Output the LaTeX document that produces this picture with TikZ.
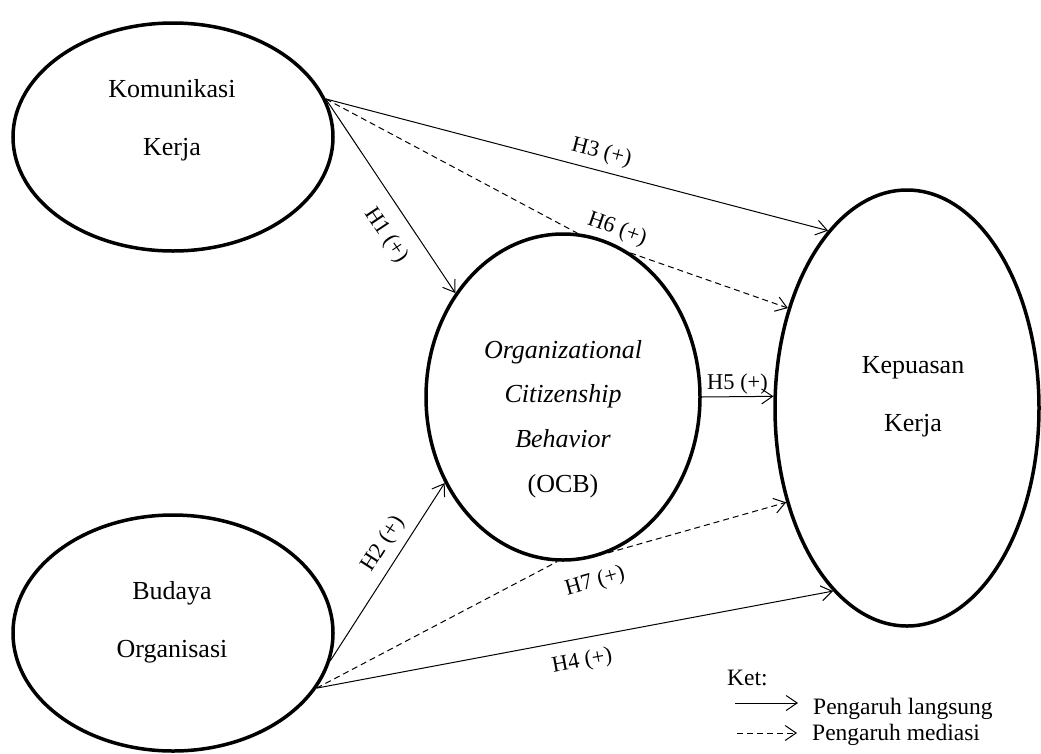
\documentclass[tikz,border=0pt]{standalone}
\usepackage{fontspec}
\setmainfont{Liberation Serif}
\usetikzlibrary{arrows.meta,shapes.geometric}

\begin{document}
\begin{tikzpicture}[
      x=1pt, y=-1pt,
      var/.style={ellipse, draw=black, line width=3.5pt, fill=white, inner sep=0pt},
      vtxt/.style={align=center, inner sep=0pt, font=\fontsize{26}{58}\selectfont},
      lbl/.style={font=\fontsize{22.5}{26}\selectfont, sloped, inner sep=2pt},
      legtxt/.style={inner sep=0pt, font=\fontsize{23.5}{28}\selectfont},
      direct/.style={-{Straight Barb[length=11pt,width=15pt]}, line width=1pt},
      mediate/.style={direct, dash pattern=on 6pt off 4pt}
    ]
      \useasboundingbox (0,0) rectangle (1041,753);

      % variables
      \node[var, minimum width=320pt, minimum height=228pt] (kom) at (173,137) {};
      \node[var, minimum width=320pt, minimum height=236pt] (bud) at (173,633) {};
      \node[var, minimum width=274pt, minimum height=326pt] (ocb) at (563,397) {};
      \node[var, minimum width=264pt, minimum height=436pt] (kep) at (907,408) {};

      \node[vtxt] (komtxt) at (172,120) {Komunikasi\\Kerja};
      \node[vtxt] (budtxt) at (172,622) {Budaya\\Organisasi};
      \node[vtxt, font=\fontsize{26}{44.6}\selectfont] (ocbtxt) at (563,419)
        {\textit{Organizational}\\\textit{Citizenship}\\\textit{Behavior}\\(OCB)};
      \node[vtxt] (keptxt) at (913,397) {Kepuasan\\Kerja};

      % direct effects
      \draw[direct] (kom.14) -- node[lbl, pos=0.63, below=13pt] {H1 (+)} (ocb.136);
      \draw[direct] (kom.14) -- node[lbl, pos=0.54, above=5pt] {H3 (+)} (kep.114.6);
      \draw[direct] (bud.-10) -- node[lbl, pos=0.60, above=5.5pt] {H2 (+)} (ocb.216);
      \draw[direct] (bud.-21.5) -- node[lbl, pos=0.506, below=10.5pt] {H4 (+)} (kep.248.9);
      \draw[direct] (ocb.east) -- node[lbl, above=0pt] {H5 (+)} (kep.175);

      % mediation
      \draw[mediate, -] (kom.14) -- (ocb.85);
      \draw[mediate] (ocb.65) -- node[lbl, pos=-0.12, above=5pt] {H6 (+)} (kep.140);
      \draw[mediate, -] (bud.-21.5) -- (ocb.-92);
      \draw[mediate] (ocb.-74) -- node[lbl, pos=-0.107, below=11.5pt] {H7 (+)} (kep.218.7);

      % legend
      \node[legtxt, anchor=base west] (ket) at (727,685) {Ket:};
      \node[legtxt, anchor=base west] (lgs) at (813,714) {Pengaruh langsung};
      \node[legtxt, anchor=base west] (med) at (812,740) {Pengaruh mediasi};
      \coordinate (lgs0) at (735,703);
      \coordinate (med0) at (737,733);
      \draw[direct, shorten >=15pt] (lgs0) -- (lgs0 -| lgs.west);
      \draw[mediate, shorten >=15pt] (med0) -- (med0 -| med.west);
    \end{tikzpicture}
\end{document}
